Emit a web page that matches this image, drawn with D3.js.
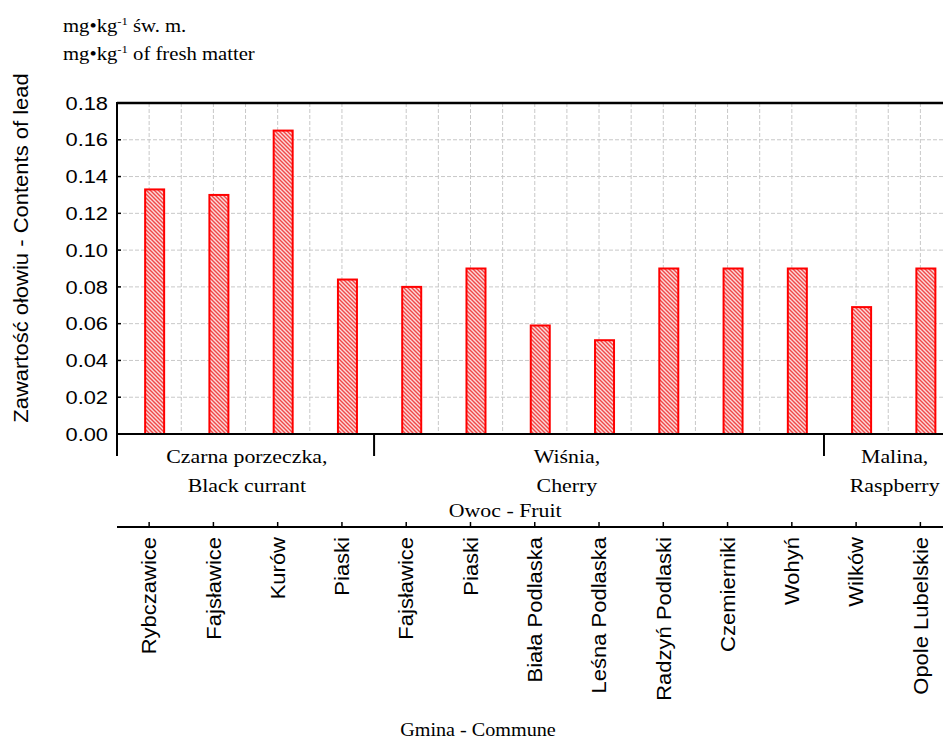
<!DOCTYPE html>
<html>
<head>
<meta charset="utf-8">
<script src="https://cdn.jsdelivr.net/npm/d3@7"></script>
<style>
  body { margin: 0; background: #fff; }
  svg { display: block; }
</style>
</head>
<body>
<div id="chart"></div>
<script>
// dane
const communes = ["Rybczawice", "Fajsławice", "Kurów", "Piaski", "Fajsławice", "Piaski", "Biała  Podlaska",
  "Leśna  Podlaska", "Radzyń  Podlaski", "Czemierniki", "Wohyń", "Wilków", "Opole  Lubelskie"]
const leadValues = [0.133, 0.130, 0.165, 0.084, 0.080, 0.090, 0.059, 0.051, 0.090, 0.090, 0.090, 0.069, 0.090]
const yTicks = [0, 0.02, 0.04, 0.06, 0.08, 0.10, 0.12, 0.14, 0.16, 0.18]
// grupy owoców: [start, koniec) w indeksach kategorii
const fruitGroups = [
  { lines: ["Czarna porzeczka,", "Black currant"], start: 0, end: 4, labelAt: 2.02 },
  { lines: ["Wiśnia,", "Cherry"], start: 4, end: 11, labelAt: 7.0 },
  { lines: ["Malina,", "Raspberry"], start: 11, end: 13, labelAt: 12.1 }
]

const width = 943, height = 742
const plotLeft = 117, plotTop = 103, zeroY = 434, step = 64.27
const fruitAxisY = 527

const svg = d3.select("#chart").append("svg")
  .attr("width", width).attr("height", height)

// wzór kreskowania
const defs = svg.append("defs")
const pat = defs.append("pattern")
  .attr("id", "hatch").attr("patternUnits", "userSpaceOnUse")
  .attr("width", 4).attr("height", 4)
pat.append("rect").attr("width", 4).attr("height", 4).attr("fill", "#fcdada")
pat.append("path").attr("d", "M-1,3 L1,5 M0,0 L4,4 M3,-1 L5,1")
  .attr("stroke", "#f04848").attr("stroke-width", 1.4)

const x = d3.scaleBand()
  .domain(d3.range(communes.length))
  .range([plotLeft, plotLeft + step * communes.length])
const pos = d3.scaleLinear().domain([0, communes.length]).range([plotLeft, plotLeft + step * communes.length])
const y = d3.scaleLinear().domain([0, 0.18]).range([zeroY, plotTop])

const sans = "Liberation Sans, Arial, sans-serif"
const serif = "Liberation Serif, Times New Roman, DejaVu Serif, serif"

function stretchedText(g, txt, tx, ty, { rot = 0, sx = 1.15, size = 19, family = sans, anchor = "middle", dy = "0" } = {}) {
  return g.append("text")
    .attr("transform", `translate(${tx},${ty}) rotate(${rot}) scale(${sx},1)`)
    .attr("text-anchor", anchor)
    .attr("dy", dy)
    .style("font-family", family)
    .attr("font-size", size)
    .attr("fill", "#000")
    .text(txt)
}

// siatka
const grid = svg.append("g").attr("stroke", "#c8c8c8").attr("stroke-dasharray", "4,2").attr("stroke-width", 1)
grid.selectAll(".gy").data(yTicks.slice(1, -1)).join("line")
  .attr("x1", plotLeft).attr("x2", width).attr("y1", d => y(d)).attr("y2", d => y(d))
const vLines = d3.range(0.5, communes.length + 0.01, 0.5)
grid.selectAll(".gx").data(vLines.filter(v => !fruitGroups.some(g => g.end === v)))
  .join("line")
  .attr("x1", d => pos(d)).attr("x2", d => pos(d)).attr("y1", plotTop).attr("y2", zeroY)

// słupki
svg.append("g").selectAll("rect").data(leadValues).join("rect")
  .attr("x", (d, i) => x(i) + x.bandwidth() / 2 - 4)
  .attr("width", 19)
  .attr("y", d => y(d))
  .attr("height", d => zeroY - y(d))
  .attr("fill", "url(#hatch)")
  .attr("stroke", "#ff0000")
  .attr("stroke-width", 2)

// osie
const axes = svg.append("g").attr("stroke", "#000")
axes.append("line").attr("x1", plotLeft).attr("x2", width).attr("y1", plotTop).attr("y2", plotTop).attr("stroke-width", 2.5)
axes.append("line").attr("x1", plotLeft).attr("x2", width).attr("y1", zeroY).attr("y2", zeroY).attr("stroke-width", 2)
axes.append("line").attr("x1", plotLeft).attr("x2", plotLeft).attr("y1", plotTop - 1).attr("y2", 456).attr("stroke-width", 2)
axes.selectAll(".sep").data(fruitGroups.slice(1)).join("line")
  .attr("x1", d => pos(d.start)).attr("x2", d => pos(d.start))
  .attr("y1", zeroY).attr("y2", 456).attr("stroke-width", 2)
axes.selectAll(".ty").data(yTicks).join("line")
  .attr("x1", plotLeft).attr("x2", plotLeft + 4).attr("y1", d => y(d)).attr("y2", d => y(d)).attr("stroke-width", 1.5)
axes.append("line").attr("x1", plotLeft).attr("x2", width).attr("y1", fruitAxisY).attr("y2", fruitAxisY).attr("stroke-width", 2)
axes.selectAll(".tx").data(d3.range(communes.length)).join("line")
  .attr("x1", i => x(i) + x.bandwidth() / 2).attr("x2", i => x(i) + x.bandwidth() / 2)
  .attr("y1", fruitAxisY - 5).attr("y2", fruitAxisY).attr("stroke-width", 1.5)

// etykiety osi Y
const labels = svg.append("g")
yTicks.forEach(v => stretchedText(labels, d3.format(".2f")(v), 108, y(v), { anchor: "end", dy: "0.35em" }))

stretchedText(labels, "Zawartość ołowiu - Contents of lead", 21, 248, { rot: -90, dy: "0.35em", size: 20, sx: 1.1 })

// etykiety gmin
communes.forEach((c, i) => {
  stretchedText(labels, c, x(i) + x.bandwidth() / 2, 537, { rot: -90, anchor: "end", dy: "0.36em", size: 20, sx: 1.1 })
})

// grupy owoców
fruitGroups.forEach(g => {
  g.lines.forEach((ln, k) => {
    stretchedText(labels, ln, pos(g.labelAt), 463 + k * 29, { family: serif, size: 19, sx: 1.15 })
  })
})
stretchedText(labels, "Owoc - Fruit", pos(6.04), 517, { family: serif, size: 19, sx: 1.15 })
stretchedText(labels, "Gmina - Commune", 478, 736, { family: serif, size: 18, sx: 1.12 })

// jednostka
function unitLine(ty, rest) {
  const t = labels.append("text")
    .attr("transform", `translate(63,${ty}) scale(1.15,1)`)
    .style("font-family", serif).attr("font-size", 18)
  t.append("tspan").text("mg•kg")
  t.append("tspan").attr("font-size", 11).attr("dy", -7).text("-1")
  t.append("tspan").attr("dy", 7).text(rest)
}
unitLine(32, " św. m.")
unitLine(60, " of fresh matter")
</script>
</body>
</html>
